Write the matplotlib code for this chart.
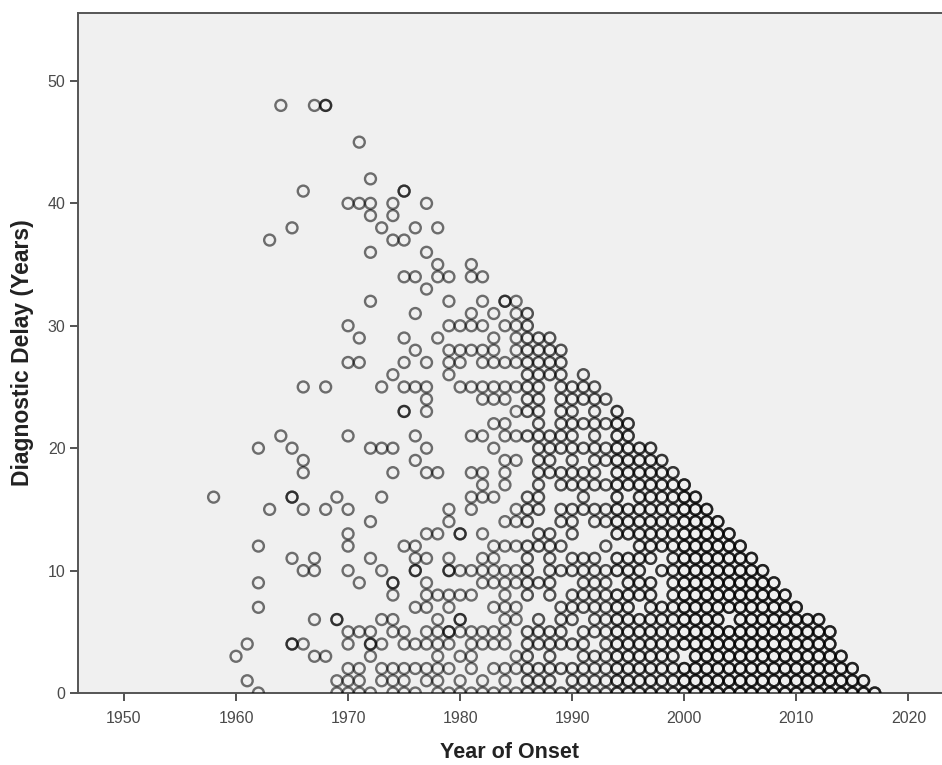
import matplotlib
matplotlib.use('Agg')
import matplotlib.pyplot as plt

# Years of onset seen at each delay value.
# A year listed twice is a spot that is drawn darker in the original.
delay_48 = [1964, 1967, 1968, 1968]
delay_45 = [1971]
delay_42 = [1972]
delay_41 = [1966, 1975, 1975]
delay_40 = [1970, 1971, 1972, 1974, 1977]
delay_39 = [1972, 1974]
delay_38 = [1965, 1973, 1976, 1978]
delay_37 = [1963, 1974, 1975]
delay_36 = [1972, 1977]
delay_35 = [1978, 1981]
delay_34 = [1975, 1976, 1978, 1979, 1981, 1982]
delay_33 = [1977]
delay_32 = [1972, 1979, 1982, 1984, 1984, 1985]
delay_31 = [1976, 1981, 1983, 1985, 1986]
delay_30 = [1970, 1979, 1980, 1981, 1982, 1984, 1985, 1986]
delay_29 = [1971, 1975, 1978, 1983, 1985, 1986, 1987, 1988]
delay_28 = [1976, 1979, 1980, 1981, 1982, 1983, 1985, 1986, 1987, 1988, 1989]
delay_27 = [1970, 1971, 1975, 1977, 1979, 1980, 1982, 1983, 1984, 1985, 1986, 1987, 1988, 1989]
delay_26 = [1974, 1979, 1986, 1987, 1988, 1989, 1991]
delay_25 = [1966, 1968, 1973, 1975, 1976, 1977, 1980, 1981, 1982, 1983, 1984, 1985, 1986, 1987,
            1989, 1990, 1991, 1992]
delay_24 = [1977, 1982, 1983, 1984, 1986, 1987, 1989, 1990, 1991, 1992, 1993]
delay_23 = [1975, 1975, 1977, 1985, 1986, 1987, 1989, 1990, 1992, 1994]
delay_22 = [1983, 1984, 1987, 1989, 1990, 1991, 1992, 1993, 1994, 1995]
delay_21 = [1964, 1970, 1976, 1981, 1982, 1984, 1985, 1986, 1987, 1988, 1989, 1990, 1992, 1994, 1995]
delay_20 = [1962, 1965, 1972, 1973, 1974, 1977, 1983, 1987, 1988, 1989, 1990, 1991, 1992, 1993,
            1994, 1995, 1996, 1997]
delay_19 = [1966, 1976, 1984, 1985, 1987, 1988, 1990, 1992, 1993, 1994, 1995, 1996, 1997, 1998]
delay_18 = [1966, 1974, 1977, 1978, 1981, 1982, 1984, 1987, 1988, 1989, 1990, 1991, 1992,
            1994, 1995, 1996, 1997, 1998, 1999]
delay_17 = [1982, 1984, 1987, 1989, 1990, 1991, 1992, 1993, 1994, 1995, 1996, 1997, 1998, 1999, 2000]
delay_16 = [1958, 1965, 1965, 1969, 1973, 1981, 1982, 1983, 1986, 1987, 1991, 1994,
            1996, 1997, 1998, 1999, 2000, 2001]
delay_15 = [1963, 1966, 1968, 1970, 1979, 1981, 1985, 1986, 1987, 1989, 1990, 1991, 1992, 1993,
            1994, 1995, 1996, 1997, 1998, 1999, 2000, 2001, 2002]
delay_14 = [1972, 1979, 1984, 1985, 1986, 1989, 1990, 1992, 1993, 1994, 1995, 1996, 1997, 1998,
            1999, 2000, 2001, 2002, 2003]
delay_13 = [1970, 1977, 1978, 1980, 1980, 1982, 1987, 1988, 1990, 1994, 1995, 1996, 1997, 1998,
            1999, 2000, 2001, 2002, 2003, 2004]
delay_12 = [1962, 1970, 1975, 1976, 1983, 1984, 1985, 1986, 1987, 1988, 1989, 1993, 1996, 1997,
            1998, 1999, 2000, 2001, 2002, 2003, 2004, 2005]
delay_11 = [1965, 1967, 1972, 1976, 1977, 1979, 1982, 1983, 1986, 1988, 1990, 1991, 1992, 1994,
            1995, 1996, 1997, 1999, 2000, 2001, 2002, 2003, 2004, 2005, 2006]
delay_10 = [1966, 1967, 1970, 1973, 1976, 1976, 1979, 1979, 1980, 1981, 1982, 1983, 1984, 1985, 1986,
            1988, 1989, 1990, 1991, 1992, 1993, 1994, 1995, 1996, 1998, 1999, 2000, 2001, 2002,
            2003, 2004, 2005, 2006, 2007]
delay_9 = [1962, 1971, 1974, 1974, 1977, 1982, 1983, 1984, 1985, 1986, 1987, 1988, 1991, 1992, 1993,
           1995, 1996, 1997, 1999, 2000, 2001, 2002, 2003, 2004, 2005, 2006, 2007, 2008]
delay_8 = [1974, 1977, 1978, 1979, 1980, 1981, 1984, 1986, 1988, 1990, 1991, 1992, 1993, 1994, 1995,
           1996, 1997, 1999, 2000, 2001, 2002, 2003, 2004, 2005, 2006, 2007, 2008, 2009]
delay_7 = [1962, 1976, 1977, 1979, 1983, 1984, 1985, 1989, 1990, 1991, 1992, 1993, 1994, 1995,
           1997, 1998, 1999, 2000, 2001, 2002, 2003, 2004, 2005, 2006, 2007, 2008, 2009, 2010]
delay_6 = [1967, 1969, 1969, 1973, 1974, 1978, 1980, 1980, 1984, 1985, 1987, 1989, 1990, 1992, 1993,
           1994, 1995, 1996, 1997, 1998, 1999, 2000, 2001, 2002, 2003, 2005, 2006, 2007, 2008,
           2009, 2010, 2011, 2012]
delay_5 = [1970, 1971, 1972, 1974, 1975, 1977, 1978, 1979, 1979, 1980, 1981, 1982, 1983, 1984, 1986,
           1987, 1988, 1989, 1991, 1992, 1993, 1994, 1995, 1996, 1997, 1998, 1999, 2000, 2001,
           2002, 2003, 2004, 2005, 2006, 2007, 2008, 2009, 2010, 2011, 2012, 2013]
delay_4 = [1961, 1965, 1965, 1966, 1970, 1972, 1972, 1973, 1975, 1976, 1977, 1978, 1979, 1981, 1982,
           1983, 1984, 1986, 1987, 1988, 1989, 1990, 1991, 1993, 1994, 1995, 1996, 1997, 1998,
           1999, 2000, 2001, 2002, 2003, 2004, 2005, 2006, 2007, 2008, 2009, 2010, 2011, 2012, 2013]
delay_3 = [1960, 1967, 1968, 1972, 1978, 1980, 1981, 1985, 1986, 1988, 1991, 1992, 1993, 1994, 1995,
           1996, 1997, 1998, 1999, 2001, 2002, 2003, 2004, 2005, 2006, 2007, 2008, 2009, 2010,
           2011, 2012, 2013, 2014]
delay_2 = [1970, 1971, 1973, 1974, 1975, 1976, 1977, 1978, 1979, 1981, 1983, 1984, 1985, 1986, 1987,
           1988, 1989, 1990, 1991, 1992, 1993, 1994, 1995, 1996, 1997, 1998, 1999, 2000, 2001,
           2002, 2003, 2004, 2005, 2006, 2007, 2008, 2009, 2010, 2011, 2012, 2013, 2014, 2015]
delay_1 = [1961, 1969, 1970, 1971, 1973, 1974, 1975, 1977, 1978, 1980, 1982, 1984, 1986, 1987, 1988,
           1990, 1991, 1992, 1993, 1994, 1995, 1996, 1997, 1998, 1999, 2000, 2001, 2002, 2003,
           2004, 2005, 2006, 2007, 2008, 2009, 2010, 2011, 2012, 2013, 2014, 2015, 2016]
delay_0 = [1962, 1969, 1970, 1971, 1972, 1974, 1975, 1976, 1978, 1979, 1980, 1981, 1982, 1983, 1984,
           1985, 1986, 1987, 1988, 1989, 1990, 1991, 1992, 1993, 1994, 1995, 1996, 1997, 1998,
           1999, 2000, 2001, 2002, 2003, 2004, 2005, 2006, 2007, 2008, 2009, 2010, 2011, 2012,
           2013, 2014, 2015, 2016, 2017]

x_ticks = [1950, 1960, 1970, 1980, 1990, 2000, 2010, 2020]
y_ticks = [0, 10, 20, 30, 40, 50]

rows = {48: delay_48, 45: delay_45, 42: delay_42, 41: delay_41, 40: delay_40, 39: delay_39,
        38: delay_38, 37: delay_37, 36: delay_36, 35: delay_35, 34: delay_34, 33: delay_33,
        32: delay_32, 31: delay_31, 30: delay_30, 29: delay_29, 28: delay_28, 27: delay_27,
        26: delay_26, 25: delay_25, 24: delay_24, 23: delay_23, 22: delay_22, 21: delay_21,
        20: delay_20, 19: delay_19, 18: delay_18, 17: delay_17, 16: delay_16, 15: delay_15,
        14: delay_14, 13: delay_13, 12: delay_12, 11: delay_11, 10: delay_10, 9: delay_9,
        8: delay_8, 7: delay_7, 6: delay_6, 5: delay_5, 4: delay_4, 3: delay_3, 2: delay_2,
        1: delay_1, 0: delay_0}

years = []
delays = []
for delay, row in rows.items():
    for year in row:
        years.append(year)
        delays.append(delay)

plt.rcParams['font.family'] = ['Liberation Sans', 'DejaVu Sans']

fig = plt.figure(figsize=(9.42, 7.65), dpi=100)
ax = fig.add_axes([78 / 942, 1 - 693 / 765, (942 - 78) / 942, (693 - 13) / 765])
ax.set_facecolor('#f0f0f0')

ax.scatter(years, delays, s=62, facecolors='none', edgecolors='black', linewidths=1.7, alpha=0.55, zorder=3)

# Later years are overplotted many times, so they come out darker
for start_year, layer_alpha in [(1986, 0.25), (1994, 0.35), (2000, 0.35)]:
    late_years = [y for y in years if y >= start_year]
    late_delays = [d for y, d in zip(years, delays) if y >= start_year]
    ax.scatter(late_years, late_delays, s=62, facecolors='none', edgecolors='black', linewidths=1.7,
               alpha=layer_alpha, zorder=3)

ax.set_xlim(1945.9, 2023)
ax.set_ylim(0, 55.55)
ax.set_xticks(x_ticks)
ax.set_yticks(y_ticks)
ax.tick_params(axis='both', length=6, width=1.3, color='#444444', labelcolor='#4a4a4a', labelsize=11.5)
ax.tick_params(axis='x', pad=7)
ax.tick_params(axis='y', pad=3)

ax.spines['right'].set_visible(False)
for side in ['left', 'bottom', 'top']:
    ax.spines[side].set_color('#555555')
    ax.spines[side].set_linewidth(1.4)

fig.text(510 / 942, 1 - 752 / 765, 'Year of Onset', fontsize=15.5, fontweight='bold', color='#222222',
         ha='center', va='center')
fig.text(23 / 942, 1 - 353 / 765, 'Diagnostic Delay (Years)', fontsize=16.5, fontweight='bold', color='#222222',
         rotation=90, ha='center', va='center')

fig.savefig('out.png', dpi=100)
